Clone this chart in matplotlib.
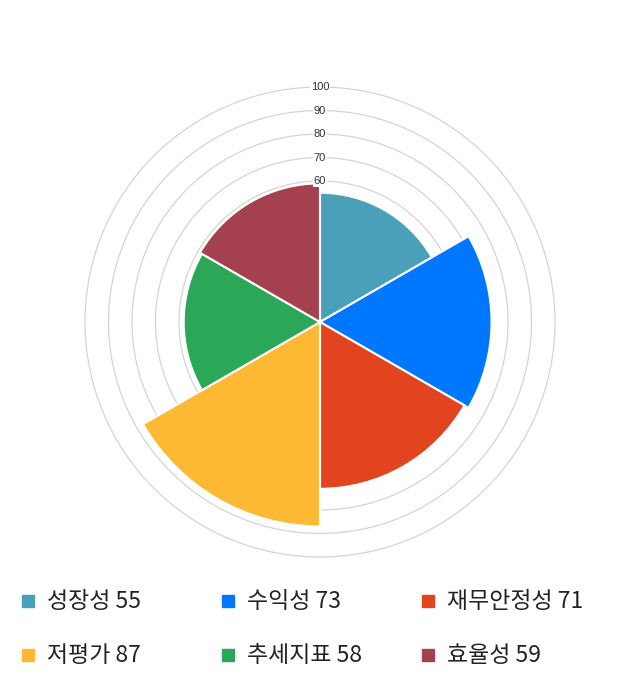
import numpy as np
import matplotlib
matplotlib.use('Agg')
import matplotlib.pyplot as plt
from matplotlib.patches import Rectangle

plt.rcParams['font.family'] = ['Noto Sans CJK KR', 'DejaVu Sans']

labels = ['성장성', '수익성', '재무안정성', '저평가', '추세지표', '효율성']
values = [55, 73, 71, 87, 58, 59]
colors = ['#4aa0b8', '#0077ff', '#e2441f', '#fdb933', '#2aa757', '#a5404f']
ring_ticks = [60, 70, 80, 90, 100]

fig = plt.figure(figsize=(6.4, 7), dpi=100)
ax = fig.add_axes([0.1328, 0.2043, 0.7344, 0.6714], projection='polar')
ax.set_theta_zero_location('N')
ax.set_theta_direction(-1)
ax.set_ylim(0, 100)
ax.grid(False)
ax.set_xticks([])
ax.set_yticks([])
ax.spines['polar'].set_visible(False)

# rings
t = np.linspace(0, 2 * np.pi, 400)
for r in ring_ticks:
    ax.plot(t, np.full_like(t, r), color='#d4d4d4', lw=0.9, zorder=1, clip_on=False)

width = 2 * np.pi / len(values)
theta = np.arange(len(values)) * width + width / 2
ax.bar(theta, values, width=width, color=colors, edgecolor='white',
       linewidth=1.5, zorder=2)

for r in ring_ticks:
    ax.text(0, r, str(r), ha='center', va='center', fontsize=8,
            family=['Liberation Sans', 'DejaVu Sans'], color='#333333',
            bbox=dict(facecolor='white', edgecolor='none', pad=0.5), zorder=3,
            clip_on=False)

# legend
for i, (lab, v, c) in enumerate(zip(labels, values, colors)):
    col = i % 3
    row = i // 3
    x0 = 22 + col * 200
    yc = 601 + row * 54
    fig.add_artist(Rectangle((x0 / 640, 1 - (yc + 6) / 700), 12 / 640, 12 / 700,
                             transform=fig.transFigure, color=c))
    fig.text((x0 + 25) / 640, 1 - (yc + 1) / 700, f'{lab} {v}', fontsize=16.5,
             va='center', ha='left', color='#222222')

fig.savefig('out.png', dpi=100)
